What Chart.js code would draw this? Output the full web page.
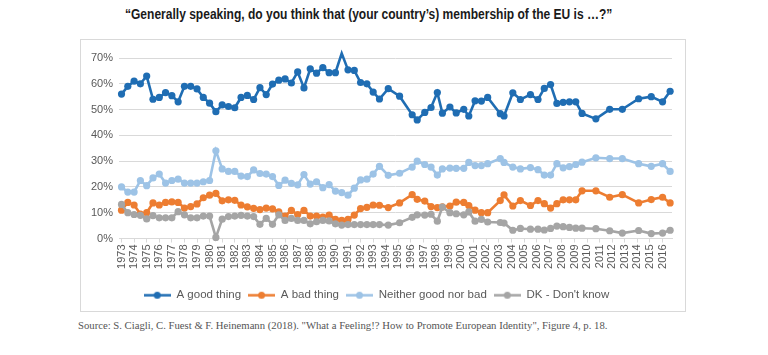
<!DOCTYPE html>
<html><head><meta charset="utf-8">
<script src="https://cdn.jsdelivr.net/npm/chart.js@4/dist/chart.umd.min.js"></script>
<style>
body{margin:0;background:#fff;width:768px;height:355px;position:relative;overflow:hidden}
#title{position:absolute;top:6px;left:125px;font:bold 14px 'Liberation Sans',Arial,sans-serif;color:#1a1a1a;white-space:nowrap;transform-origin:0 0}
#box{position:absolute;left:80px;top:39px;width:606px;height:273px;border:1px solid #d9d9d9;box-sizing:border-box}
#src{position:absolute;left:78px;top:319px;font:10.7px 'Liberation Serif','Times New Roman',serif;color:#555;white-space:nowrap}
</style></head><body>
<div id="title">“Generally speaking, do you think that (your country’s) membership of the EU is …?”</div>
<div id="box"><canvas id="c" width="604" height="271"></canvas></div>
<div id="src">Source: S. Ciagli, C. Fuest &amp; F. Heinemann (2018). "What a Feeling!? How to Promote European Identity", Figure 4, p. 18.</div>
<script>
const yearLabels = ['1973','1974','1975','1976','1977','1978','1979','1980','1981','1982','1983','1984','1985','1986','1987','1988','1989','1990','1991','1992','1993','1994','1995','1996','1997','1998','1999','2000','2001','2002','2003','2004','2005','2006','2007','2008','2009','2010','2011','2012','2013','2014','2015','2016'];
const yTickLabels = ['0%','10%','20%','30%','40%','50%','60%','70%'];
const surveyYears = [1973,1973.5,1974,1974.5,1975,1975.5,1976,1976.5,1977,1977.5,1978,1978.5,1979,1979.5,1980,1980.5,1981,1981.5,1982,1982.5,1983,1983.5,1984,1984.5,1985,1985.5,1986,1986.5,1987,1987.5,1988,1988.5,1989,1989.5,1990,1990.5,1991,1991.5,1992,1992.5,1993,1993.5,
1994.2,1995.1,1996.1,1996.5,1997.1,1997.6,1998.1,1998.5,1999.1,1999.6,2000.2,2000.6,2001.1,2001.6,2002.1,2003.1,2003.4,2004.1,2004.7,2005.5,2006.1,2006.6,2007.1,2007.6,2008.1,2008.6,2009.1,2009.6,2010.7,2011.8,2012.8,2014.1,2015.1,2016.0,2016.6];
const goodThing = [56,59,61,60,63,54,54.7,56.6,55.4,53,59,59,58,54.7,52.5,49.2,51.8,51.2,50.7,54.7,55.5,53.9,58.5,55.8,59.9,61.4,61.9,60.3,64.6,58.4,65.8,64.1,66.3,64.3,64.3,71.8,65.4,65.2,60.5,60,56.8,54.1,
58.1,55.2,48,46,48.9,50.8,56.6,48.6,51,48.7,50.1,47.5,53.4,53.3,54.7,48.4,47.5,56.5,53.9,55.8,53.9,58.2,59.7,52.4,52.8,53,53,48.5,46.4,50.1,50.1,54.2,55,53,57.1];
const badThing = [11,14,13,9.5,10,13.8,13,14,14.2,14,11.8,12.4,13.4,15.8,16.8,17.5,14.6,15,14.8,13,12.3,11.7,11.2,11.8,11.5,10.3,8.7,10.9,9.3,10.9,8.7,8.7,8.3,9.1,7.4,7,7.4,9.1,11.6,12.1,13,12.9,
12,13.8,17,15.2,14.5,12.4,12,12.3,12.6,14.1,14,12.8,11,10,10,14.7,16.9,12.6,14.7,12.8,14.7,13.5,11.8,13.5,15,15,15,18.5,18.5,16,17,13.8,15.1,16,13.8];
const neither = [20,18,18,22.5,20.5,23.5,25,21.5,22.5,23,21.5,21.5,21.5,22,22.5,34,27,26,26,24.2,24,26.6,25.2,25,24,20.6,22.6,21.4,20.8,24.8,21.1,22,19.7,20.9,18.4,17.8,16.8,19.5,22.7,23,25,28,
24.5,25.3,27.7,30,28.7,27.7,24.6,27,27.3,27.2,27.2,29.5,28.3,28.3,29,31,29.5,27.7,27,27.5,26.7,24.6,24.6,29,27.4,27.9,28.7,29.6,31.3,31,31,29,28,29,26];
const dontKnow = [13.2,10,9.3,9,7.6,8.9,8,8,8,10.4,9.2,8,8,8.7,8.7,0.4,7.5,8.5,8.7,9,8.7,8.5,5.5,7.8,5.5,9.2,7,7.8,7,7,5.7,6.5,7,6.8,5.7,5.2,5.4,5.4,5.4,5.4,5.4,5.4,
5.2,6.1,8.2,9.2,9.1,9.4,6.7,12.2,10,9.6,9.2,10.3,6.7,7.4,6.4,6.2,6,3.2,3.9,3.6,3.6,3.3,3.9,4.8,4.6,4.3,4,4,3.8,3,2.1,3.1,1.9,2.1,3.2];
const seriesNames = ['A good thing','A bad thing','Neither good nor bad','DK - Don\'t know'];
const seriesColors = ['#1f6db3','#ed7d31','#9dc3e6','#a5a5a5'];
const seriesValues = [goodThing, badThing, neither, dontKnow];

// fit title width to reference (~487px)
const t = document.getElementById('title');
t.style.transform = 'scaleX(' + (487 / t.offsetWidth) + ')';

function legendIcon(color){
  const cv = document.createElement('canvas');
  cv.width = 27; cv.height = 9;
  const g = cv.getContext('2d');
  g.strokeStyle = color; g.lineWidth = 2.5;
  g.beginPath(); g.moveTo(0,4.5); g.lineTo(27,4.5); g.stroke();
  g.fillStyle = color; g.beginPath(); g.arc(13.5,4.5,3.5,0,Math.PI*2); g.fill();
  return cv;
}
const icons = seriesColors.map(legendIcon);

const datasets = seriesNames.map((name,k)=>({
  label: name,
  data: surveyYears.map((yr,i)=>({x: yr, y: seriesValues[k][i]})),
  borderColor: seriesColors[k],
  backgroundColor: seriesColors[k],
  borderWidth: 2.6,
  pointRadius: 3.6,
  pointBorderWidth: 0,
  pointHoverRadius: 3.6,
  tension: 0,
  clip: false,
  order: 4-k
}));

const tickColor = '#595959';
new Chart(document.getElementById('c'), {
  type: 'line',
  data: { datasets },
  options: {
    responsive: false,
    animation: false,
    devicePixelRatio: 1,
    layout: { padding: { left: 0, right: 13, top: 18, bottom: 0 } },
    plugins: {
      tooltip: { enabled: false },
      legend: {
        position: 'bottom',
        labels: {
          usePointStyle: true,
          pointStyleWidth: 27,
          padding: 7,
          color: tickColor,
          font: { family: "'Liberation Sans',Arial,sans-serif", size: 11.5 },
          generateLabels: (chart) => chart.data.datasets.map((ds,i)=>({
            text: ds.label, pointStyle: icons[i], fillStyle: ds.borderColor,
            strokeStyle: ds.borderColor, lineWidth: 0, hidden: false, datasetIndex: i, fontColor: tickColor
          }))
        }
      }
    },
    scales: {
      x: {
        type: 'linear',
        min: 1972.8, max: 2016.75,
        afterBuildTicks: (s) => { s.ticks = yearLabels.map(l => ({ value: Number(l) })); },
        afterFit: (s) => { s.height = 44; },
        ticks: {
          autoSkip: false, maxRotation: 90, minRotation: 90, padding: 2,
          color: tickColor,
          font: { family: "'Liberation Sans',Arial,sans-serif", size: 11 },
          callback: (v, i) => yearLabels[i]
        },
        grid: { drawOnChartArea: false, drawTicks: true, tickLength: 4, color: '#d9d9d9' },
        border: { color: '#d9d9d9' }
      },
      y: {
        min: 0, max: 70,
        afterBuildTicks: (s) => { s.ticks = yTickLabels.map((l,i) => ({ value: i*10 })); },
        afterFit: (s) => { s.width = 38; },
        ticks: {
          padding: 6, color: tickColor,
          font: { family: "'Liberation Sans',Arial,sans-serif", size: 11 },
          callback: (v, i) => yTickLabels[i]
        },
        grid: { color: '#d9d9d9', drawTicks: false },
        border: { display: false }
      }
    }
  }
});
</script></body></html>
